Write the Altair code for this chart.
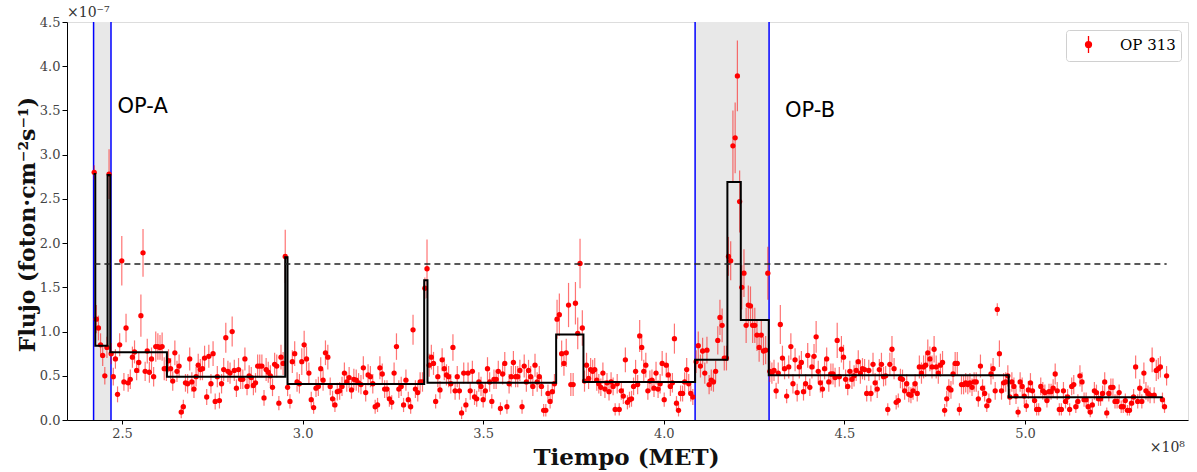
import altair as alt
import numpy as np
import pandas as pd

# ---------------- data (flux in 1e-7, time in 1e8 s MET) ----------------
# Each segment: weekly bins placed between the first and last bin time
SEG_A_T = (2.4231, 2.9520)
SEG_A_FLUJO = [2.80,1.14,1.04,0.85,0.73,0.50,0.82,2.78,0.75,0.49,0.69,0.29,0.85,1.80,0.43,1.04,0.42,0.46,0.71,0.77,
               0.56,0.65,1.18,1.89,0.55,0.78,0.54,0.69,0.49,0.83,0.83,0.82,0.83,0.58,0.58,0.67,0.58,0.44,0.76,0.55,
               0.61,0.09,0.15,0.42,0.41,0.69,0.43,0.35,0.49,0.62,0.57,0.58,0.70,0.26,0.72,0.41,0.75,0.21,0.49,0.22,
               0.41,0.57,0.93,0.55,0.53,1.00,0.56,0.36,0.57,0.46,0.46,0.69,0.38,0.50,0.48,0.39,0.42,0.61,0.61,0.61,
               0.25,0.57,0.54,0.50,0.37,0.63,0.61,0.19,0.71,0.64,1.85]
SEG_A_ERR = [0.08,0.16,0.14,0.13,0.12,0.10,0.12,0.28,0.12,0.10,0.11,0.09,0.13,0.28,0.10,0.16,0.10,0.11,0.12,0.13,
             0.11,0.12,0.24,0.27,0.11,0.14,0.12,0.13,0.11,0.17,0.15,0.14,0.16,0.13,0.14,0.13,0.12,0.11,0.14,0.12,
             0.13,0.07,0.08,0.10,0.11,0.13,0.11,0.10,0.11,0.13,0.12,0.13,0.14,0.09,0.13,0.11,0.14,0.09,0.12,0.09,
             0.11,0.13,0.17,0.12,0.12,0.17,0.12,0.10,0.13,0.11,0.11,0.13,0.10,0.12,0.12,0.11,0.11,0.13,0.13,0.13,
             0.09,0.13,0.12,0.12,0.10,0.13,0.13,0.08,0.14,0.13,0.30]

SEG_B_T = (2.9585, 3.3320)
SEG_B_FLUJO = [0.37,0.21,0.66,0.75,0.43,
               0.41,0.66,0.85,0.69,0.53,0.23,0.14,0.36,0.38,0.58,0.45,0.76,0.71,0.38,0.24,0.17,0.32,0.33,0.38,0.53,
               0.43,0.48,0.34,0.46,0.45,0.42,0.40,0.59,0.31,0.51,0.49,0.41,0.15,0.17,0.59,0.52,0.35,0.35,0.24,0.20,
               0.53,0.83,0.35,0.38,0.17,0.45,0.23,0.15,1.02,0.35,0.31,0.43,0.43]
SEG_B_ERR = [0.10,0.08,0.13,0.14,0.11,
             0.11,0.15,0.16,0.14,0.12,0.09,0.07,0.10,0.11,0.13,0.12,0.14,0.14,0.10,0.09,0.08,0.10,0.10,0.11,0.12,
             0.11,0.12,0.10,0.12,0.12,0.11,0.11,0.13,0.10,0.12,0.12,0.11,0.08,0.08,0.13,0.12,0.10,0.10,0.09,0.08,
             0.12,0.15,0.10,0.11,0.08,0.12,0.09,0.08,0.17,0.10,0.10,0.11,0.11]

SEG_C_T = (3.3385, 3.3445)
SEG_C_FLUJO = [1.49, 1.71]
SEG_C_ERR = [0.12, 0.33]

SEG_D_T = (3.3505, 3.6973)
SEG_D_FLUJO = [0.62,0.71,0.64,0.21,0.49,0.34,0.68,0.58,0.51,0.49,0.41,0.82,0.33,0.49,0.33,0.08,0.53,0.17,0.53,0.33,
               0.55,0.26,0.24,0.43,0.38,0.23,0.33,0.58,0.43,0.21,0.46,0.46,0.55,0.13,0.52,0.64,0.15,0.41,0.49,0.65,
               0.49,0.49,0.56,0.15,0.61,0.43,0.56,0.49,0.38,0.62,0.43,0.49,0.38,0.11,0.11,0.30,0.21,0.32,0.41]
SEG_D_ERR = [0.13,0.14,0.13,0.08,0.12,0.10,0.13,0.13,0.12,0.12,0.11,0.15,0.10,0.12,0.10,0.07,0.12,0.08,0.12,0.10,
             0.12,0.09,0.09,0.11,0.11,0.09,0.10,0.13,0.11,0.08,0.11,0.11,0.12,0.07,0.12,0.13,0.08,0.11,0.12,0.13,
             0.12,0.12,0.12,0.08,0.13,0.11,0.12,0.12,0.11,0.13,0.11,0.12,0.11,0.07,0.07,0.10,0.08,0.10,0.11]

SEG_E_T = (3.7045, 3.7745)
SEG_E_FLUJO = [1.14,1.19,0.75,0.64,0.76,1.30,0.40,0.40,1.32,0.98,1.77,1.04]
SEG_E_ERR = [0.22,0.24,0.15,0.14,0.16,0.25,0.13,0.13,0.24,0.18,0.28,0.20]

SEG_F_T = (3.7805, 4.0804)
SEG_F_FLUJO = [0.44,0.62,0.47,0.57,0.55,0.57,0.45,0.41,0.37,0.53,0.35,0.42,0.32,0.43,0.38,0.12,0.41,0.12,0.33,0.27,
               0.68,0.20,0.23,0.24,0.38,0.55,0.40,0.95,0.82,0.55,0.62,0.33,0.44,0.45,0.36,0.53,0.35,0.41,0.64,0.23,
               0.62,0.51,0.38,0.42,0.92,0.19,0.11,0.30,0.30,0.43,0.57,0.41,0.30,0.26]
SEG_F_ERR = [0.12,0.14,0.12,0.13,0.13,0.13,0.12,0.11,0.10,0.12,0.10,0.11,0.10,0.11,0.10,0.07,0.11,0.07,0.10,0.09,
             0.14,0.08,0.09,0.09,0.10,0.13,0.11,0.18,0.15,0.13,0.14,0.10,0.12,0.12,0.10,0.13,0.10,0.11,0.14,0.08,
             0.14,0.13,0.11,0.11,0.17,0.08,0.07,0.09,0.09,0.11,0.13,0.11,0.09,0.09]

SEG_G_T = (4.0895, 4.1735)
SEG_G_FLUJO = [0.66,0.84,0.61,0.78,0.53,0.79,0.40,0.45,0.43,0.55,0.90,1.16,1.07,0.70,0.70]
SEG_G_ERR = [0.13,0.16,0.13,0.15,0.12,0.15,0.11,0.12,0.11,0.12,0.16,0.20,0.19,0.14,0.14]

SEG_H_T = (4.1790, 4.2100)
SEG_H_FLUJO = [1.85,1.80,3.10,3.19,3.89,2.47]
SEG_H_ERR = [0.22,0.22,0.40,0.40,0.40,0.35]

SEG_I_T = (4.2160, 4.2880)
SEG_I_FLUJO = [1.50,1.66,1.07,1.30,1.29,1.07,1.07,0.96,0.82,0.96,0.78,0.79,1.66]
SEG_I_ERR = [0.25,0.27,0.20,0.22,0.22,0.20,0.20,0.18,0.16,0.18,0.16,0.16,0.30]

SEG_J_T = (4.2935, 4.9525)
SEG_J_FLUJO = [0.55,0.53,0.56,0.33,0.53,
               1.08,0.70,0.58,0.27,0.60,0.83,0.41,0.68,0.31,0.60,0.65,0.32,0.41,0.73,0.37,0.60,0.72,0.94,0.55,0.42,
               0.35,0.58,0.69,0.43,0.52,0.52,0.48,0.90,0.49,0.80,0.71,0.46,0.38,0.55,0.46,0.50,0.56,0.66,0.53,0.58,
               0.57,0.30,0.56,0.30,0.63,0.42,0.35,0.57,0.63,0.49,0.50,0.12,0.63,0.80,0.58,0.20,0.22,0.47,0.46,0.33,
               0.41,0.29,0.28,0.33,0.41,0.30,0.60,0.53,0.60,0.62,0.76,0.69,0.60,0.80,0.60,0.53,0.62,0.65,0.11,0.24,
               0.36,0.34,0.52,0.64,0.64,0.12,0.40,0.40,0.42,0.40,0.42,0.37,0.43,0.43,0.24,0.61,0.36,0.30,0.16,0.22,
               0.52,0.58,0.33,1.25,0.75,0.33,0.42,0.43,0.50]
SEG_J_ERR = [0.12,0.12,0.12,0.09,0.12,
             0.22,0.14,0.12,0.08,0.13,0.15,0.11,0.13,0.10,0.13,0.13,0.10,0.11,0.14,0.10,0.13,0.14,0.18,0.12,0.11,
             0.10,0.12,0.13,0.11,0.12,0.12,0.11,0.20,0.11,0.15,0.14,0.11,0.10,0.12,0.11,0.12,0.12,0.13,0.12,0.12,
             0.12,0.09,0.12,0.09,0.13,0.11,0.10,0.12,0.13,0.11,0.11,0.07,0.13,0.15,0.12,0.08,0.08,0.11,0.11,0.10,
             0.11,0.09,0.09,0.10,0.11,0.09,0.13,0.12,0.13,0.13,0.15,0.14,0.13,0.15,0.13,0.12,0.13,0.13,0.07,0.09,
             0.10,0.10,0.12,0.13,0.13,0.07,0.11,0.11,0.11,0.11,0.11,0.10,0.11,0.11,0.09,0.13,0.10,0.09,0.07,0.08,
             0.12,0.12,0.10,0.07,0.15,0.10,0.11,0.11,0.12]

SEG_K_T = (4.9580, 5.3920)
SEG_K_FLUJO = [0.26,0.43,0.38,0.27,0.09,0.43,0.38,0.27,0.16,0.34,
               0.42,0.33,0.22,0.12,0.12,0.38,0.33,0.31,0.22,0.32,0.32,0.36,0.52,0.33,0.12,0.12,0.33,0.21,0.26,0.12,
               0.38,0.40,0.15,0.21,0.50,0.43,0.23,0.23,0.15,0.09,0.17,0.33,0.31,0.24,0.24,0.30,0.43,0.08,0.30,0.37,
               0.37,0.21,0.21,0.31,0.15,0.15,0.22,0.11,0.11,0.19,0.26,0.60,0.21,0.36,0.21,0.53,0.33,0.30,0.28,0.68,
               0.28,0.56,0.58,0.60,0.23,0.15,0.50]
SEG_K_ERR = [0.09,0.11,0.10,0.09,0.06,0.11,0.10,0.09,0.07,0.10,
             0.11,0.10,0.08,0.07,0.07,0.10,0.10,0.09,0.08,0.09,0.09,0.10,0.12,0.10,0.07,0.07,0.10,0.08,0.09,0.07,
             0.10,0.11,0.07,0.08,0.12,0.11,0.08,0.08,0.07,0.06,0.07,0.10,0.09,0.08,0.08,0.09,0.11,0.06,0.09,0.10,
             0.10,0.08,0.08,0.09,0.07,0.07,0.08,0.06,0.06,0.07,0.09,0.13,0.08,0.10,0.08,0.12,0.10,0.09,0.09,0.14,
             0.09,0.12,0.12,0.12,0.08,0.07,0.11]

SEGMENTOS = [
    (SEG_A_T, SEG_A_FLUJO, SEG_A_ERR), (SEG_B_T, SEG_B_FLUJO, SEG_B_ERR), (SEG_C_T, SEG_C_FLUJO, SEG_C_ERR),
    (SEG_D_T, SEG_D_FLUJO, SEG_D_ERR), (SEG_E_T, SEG_E_FLUJO, SEG_E_ERR), (SEG_F_T, SEG_F_FLUJO, SEG_F_ERR),
    (SEG_G_T, SEG_G_FLUJO, SEG_G_ERR), (SEG_H_T, SEG_H_FLUJO, SEG_H_ERR), (SEG_I_T, SEG_I_FLUJO, SEG_I_ERR),
    (SEG_J_T, SEG_J_FLUJO, SEG_J_ERR), (SEG_K_T, SEG_K_FLUJO, SEG_K_ERR),
]

# Bayesian blocks (edges in 1e8 s, levels in 1e-7)
BLOQUES_BORDES = [2.4214, 2.4261, 2.4601, 2.4676, 2.6245, 2.9520, 2.9583, 3.3367, 3.3458,
                  3.7020, 3.7776, 4.0867, 4.1761, 4.2132, 4.2907, 4.9550, 5.3812]
BLOQUES_NIVEL = [2.78, 0.84, 2.77, 0.765, 0.49, 1.84, 0.407, 1.58, 0.42, 0.968, 0.43,
                 0.68, 2.69, 1.13, 0.505, 0.256]

PERIODOS = {"OP-A": (2.4214, 2.4696), "OP-B": (4.0867, 4.2915)}
UMBRAL = 1.763
UMBRAL_RANGO = (2.4236, 5.3922)
X_DOM = [2.3478, 5.4513]
Y_DOM = [0.0, 4.5]
X_TICKS = [2.5, 3.0, 3.5, 4.0, 4.5, 5.0]
Y_TICKS = [0.0, 0.5, 1.0, 1.5, 2.0, 2.5, 3.0, 3.5, 4.0, 4.5]

# ---------------- build tables ----------------
filas = []
for (t0, t1), fl, er in SEGMENTOS:
    ts = np.linspace(t0, t1, len(fl))
    for t, f, e in zip(ts, fl, er):
        filas.append({"tiempo": float(t), "flujo": f, "lo": f - e, "hi": f + e, "fuente": "OP 313"})
df = pd.DataFrame(filas)

pasos = [{"tiempo": b, "nivel": n} for b, n in zip(BLOQUES_BORDES[:-1], BLOQUES_NIVEL)]
pasos.append({"tiempo": BLOQUES_BORDES[-1], "nivel": BLOQUES_NIVEL[-1]})
df_pasos = pd.DataFrame(pasos)

df_bandas = pd.DataFrame([{"nombre": k, "ini": v[0], "fin": v[1]} for k, v in PERIODOS.items()])
df_lineas = pd.DataFrame({"t": [v for p in PERIODOS.values() for v in p]})
df_umbral = pd.DataFrame({"a": [UMBRAL_RANGO[0]], "b": [UMBRAL_RANGO[1]], "y": [UMBRAL]})
df_etq = pd.DataFrame({"t": [2.4878, 4.3358], "y": [3.47, 3.43], "txt": ["OP-A", "OP-B"]})

xs = alt.Scale(domain=X_DOM, nice=False, zero=False)
ys = alt.Scale(domain=Y_DOM, nice=False, zero=True)

x_axis = alt.Axis(values=X_TICKS, format=".1f", title="Tiempo (MET)", grid=False,
                  titleFont="DejaVu Serif", titleFontSize=23, titleFontWeight="bold",
                  titleColor="#111", titleBaseline="alphabetic", titleY=44, titleX=559,
                  labelFont="DejaVu Serif", labelFontSize=13, labelColor="#444",
                  tickSize=4, labelPadding=3, domainColor="black", tickColor="black")
y_axis = alt.Axis(values=Y_TICKS, format=".1f", title="Flujo (foton·cm⁻²s⁻¹)", grid=False,
                  titleFont="DejaVu Serif", titleFontSize=22, titleFontWeight="bold",
                  titleColor="#111", titleAngle=-90, titleBaseline="alphabetic",
                  titleX=-33, titleY=202, titleAlign="center",
                  labelFont="DejaVu Serif", labelFontSize=13, labelColor="#444",
                  tickSize=5, labelPadding=2, domainColor="black", tickColor="black")

bandas = alt.Chart(df_bandas).mark_rect(color="#e8e8e8").encode(
    x=alt.X("ini:Q", scale=xs, axis=x_axis), x2="fin:Q")

lineas = alt.Chart(df_lineas).mark_rule(color="#0000ff", strokeWidth=1.5).encode(
    x=alt.X("t:Q", scale=xs))

barras = alt.Chart(df).mark_rule(color="red", opacity=0.55, strokeWidth=1.2).encode(
    x=alt.X("tiempo:Q", scale=xs),
    y=alt.Y("lo:Q", scale=ys, axis=y_axis), y2="hi:Q")

puntos = alt.Chart(df).mark_circle(size=28, opacity=1).encode(
    x=alt.X("tiempo:Q", scale=xs),
    y=alt.Y("flujo:Q", scale=ys),
    color=alt.Color("fuente:N", scale=alt.Scale(domain=["OP 313"], range=["red"]),
                    legend=alt.Legend(title=None, orient="none", legendX=999, legendY=8,
                                      symbolType="M0,-1L0,1M-0.35,0a0.35,0.35 0 1,0 0.7,0a0.35,0.35 0 1,0 -0.7,0",
                                      symbolSize=289, symbolStrokeColor="red", symbolFillColor="red",
                                      symbolStrokeWidth=1.3, symbolOffset=8,
                                      labelFont="DejaVu Serif", labelFontSize=15, labelColor="black",
                                      labelOffset=22, padding=5, fillColor="white",
                                      strokeColor="#d0d0d0", cornerRadius=3)))

escalones = alt.Chart(df_pasos).mark_line(interpolate="step-after", color="black", strokeWidth=2).encode(
    x=alt.X("tiempo:Q", scale=xs), y=alt.Y("nivel:Q", scale=ys))

umbral = alt.Chart(df_umbral).mark_rule(color="#222", strokeDash=[6, 4], strokeWidth=1.5).encode(
    x=alt.X("a:Q", scale=xs), x2="b:Q", y=alt.Y("y:Q", scale=ys))

etiquetas = alt.Chart(df_etq).mark_text(font="DejaVu Sans", fontSize=21, align="left",
                                         baseline="alphabetic", color="black").encode(
    x=alt.X("t:Q", scale=xs), y=alt.Y("y:Q", scale=ys), text="txt:N")

exp_y = alt.Chart(pd.DataFrame({"t": [X_DOM[0]], "y": [Y_DOM[1]], "txt": ["×10⁻⁷"]})).mark_text(
    font="DejaVu Serif", fontSize=14, align="left", baseline="alphabetic", dy=-5, color="#333").encode(
    x=alt.X("t:Q", scale=xs), y=alt.Y("y:Q", scale=ys), text="txt:N")

exp_x = alt.Chart(pd.DataFrame({"t": [X_DOM[1]], "y": [Y_DOM[0]], "txt": ["×10⁸"]})).mark_text(
    font="DejaVu Serif", fontSize=14, align="right", baseline="alphabetic", dy=32, dx=-3, color="#333").encode(
    x=alt.X("t:Q", scale=xs), y=alt.Y("y:Q", scale=ys), text="txt:N")

chart = alt.layer(bandas, lineas, barras, puntos, escalones, umbral, etiquetas, exp_y, exp_x).properties(
    width=1121, height=398,
    autosize=alt.AutoSizeParams(type="none"),
    padding={"left": 67, "top": 22, "right": 9, "bottom": 52},
).configure_view(stroke="black", strokeWidth=1.2).configure(background="white")

chart.save("out.html", embed_options={"renderer": "svg", "actions": False})
